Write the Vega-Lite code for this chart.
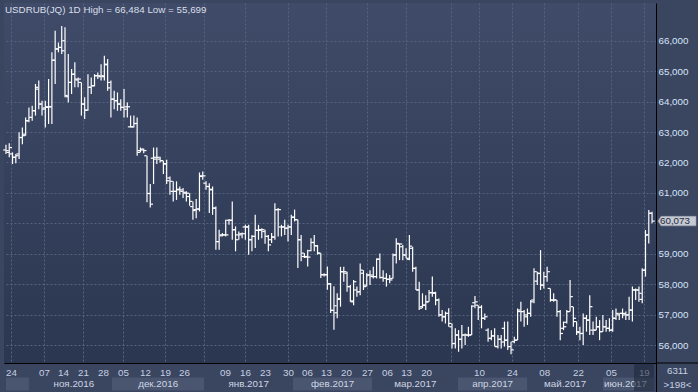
{
"$schema": "https://vega.github.io/schema/vega-lite/v6.json",
"background": "#3a4560",
"padding": {"left": 3, "top": 3, "right": 1, "bottom": 0},
"bounds": "flush",
"spacing": 0,
"config": {
  "view": {"stroke": null},
  "locale": {"number": {"decimal": ",", "thousands": " ", "grouping": [3], "currency": ["", ""]}},
  "axis": {"labelFont": "Liberation Sans", "titleFont": "Liberation Sans"},
  "text": {"font": "Liberation Sans"},
  "title": {"font": "Liberation Sans"}
},
"vconcat": [
{
  "width": 652,
  "height": 360,
  "view": {"fill": {"gradient": "linear", "x1": 0, "y1": 0, "x2": 0, "y2": 1, "stops": [{"offset": 0, "color": "#3f4b68"}, {"offset": 1, "color": "#2b3650"}]}, "stroke": null},
  "title": {"text": "USDRUB(JQ) 1D High = 66,484 Low = 55,699", "anchor": "start", "frame": "group", "orient": "top", "offset": -12, "baseline": "top", "fontSize": 9.8, "fontWeight": "normal", "color": "#d9dee8", "dx": 1},
  "data": {"values": [
{"i":0,"o":62.41,"h":62.58,"l":62.28,"c":62.39},
{"i":1,"o":62.33,"h":62.63,"l":62.17,"c":62.49},
{"i":2,"o":62.28,"h":62.33,"l":61.95,"c":62.17},
{"i":3,"o":62.17,"h":62.28,"l":61.97,"c":62.22},
{"i":4,"o":62.28,"h":62.99,"l":62.11,"c":62.82},
{"i":5,"o":62.82,"h":63.15,"l":62.60,"c":62.88},
{"i":6,"o":62.93,"h":63.48,"l":62.88,"c":63.37},
{"i":7,"o":63.37,"h":63.81,"l":63.32,"c":63.48},
{"i":8,"o":63.48,"h":63.86,"l":63.37,"c":63.70},
{"i":9,"o":63.70,"h":64.58,"l":63.54,"c":64.47},
{"i":10,"o":64.41,"h":64.69,"l":63.75,"c":63.92},
{"i":11,"o":63.92,"h":64.03,"l":63.54,"c":63.75},
{"i":12,"o":63.79,"h":64.03,"l":63.15,"c":63.83},
{"i":13,"o":63.81,"h":64.74,"l":63.26,"c":63.83},
{"i":14,"o":63.83,"h":65.62,"l":63.26,"c":65.36},
{"i":15,"o":65.36,"h":66.33,"l":64.58,"c":65.73},
{"i":16,"o":65.73,"h":65.94,"l":65.62,"c":65.78},
{"i":17,"o":65.78,"h":66.484,"l":65.56,"c":65.67},
{"i":18,"o":66.00,"h":66.44,"l":64.14,"c":64.20},
{"i":19,"o":64.16,"h":65.56,"l":63.97,"c":64.63},
{"i":20,"o":64.63,"h":65.07,"l":64.25,"c":64.90},
{"i":21,"o":64.90,"h":65.29,"l":64.47,"c":64.74},
{"i":22,"o":64.71,"h":64.79,"l":64.47,"c":64.74},
{"i":23,"o":64.63,"h":64.63,"l":63.54,"c":63.92},
{"i":24,"o":63.92,"h":64.14,"l":63.43,"c":63.72},
{"i":25,"o":63.72,"h":64.90,"l":63.70,"c":64.47},
{"i":26,"o":64.47,"h":64.79,"l":64.25,"c":64.52},
{"i":27,"o":64.52,"h":64.90,"l":64.50,"c":64.85},
{"i":28,"o":64.85,"h":64.96,"l":64.74,"c":64.85},
{"i":29,"o":64.82,"h":65.23,"l":64.69,"c":64.85},
{"i":30,"o":64.82,"h":65.51,"l":64.69,"c":65.21},
{"i":31,"o":65.23,"h":65.40,"l":64.36,"c":64.45},
{"i":32,"o":64.63,"h":64.69,"l":63.48,"c":64.08},
{"i":33,"o":64.08,"h":64.36,"l":63.75,"c":64.03},
{"i":34,"o":64.03,"h":64.30,"l":63.70,"c":63.92},
{"i":35,"o":63.92,"h":64.08,"l":63.70,"c":63.81},
{"i":36,"o":63.81,"h":64.41,"l":63.48,"c":63.75},
{"i":37,"o":63.83,"h":63.97,"l":63.48,"c":63.83},
{"i":38,"o":63.17,"h":63.54,"l":63.15,"c":63.17},
{"i":39,"o":63.17,"h":63.54,"l":63.15,"c":63.28},
{"i":40,"o":63.28,"h":63.48,"l":62.22,"c":62.33},
{"i":41,"o":62.39,"h":62.49,"l":62.33,"c":62.44},
{"i":42,"o":62.41,"h":62.46,"l":62.30,"c":62.39},
{"i":43,"o":62.22,"h":62.22,"l":60.69,"c":60.98},
{"i":44,"o":60.98,"h":61.29,"l":60.52,"c":60.63},
{"i":45,"o":62.14,"h":62.49,"l":61.29,"c":62.11},
{"i":46,"o":62.17,"h":62.49,"l":61.95,"c":62.17},
{"i":47,"o":62.11,"h":62.19,"l":62.00,"c":62.06},
{"i":48,"o":62.06,"h":62.06,"l":61.62,"c":61.95},
{"i":49,"o":61.96,"h":62.09,"l":61.29,"c":61.40},
{"i":50,"o":61.49,"h":61.54,"l":60.94,"c":61.38},
{"i":51,"o":61.05,"h":61.38,"l":60.72,"c":61.05},
{"i":52,"o":61.05,"h":61.38,"l":60.77,"c":61.10},
{"i":53,"o":61.12,"h":61.21,"l":60.94,"c":61.10},
{"i":54,"o":61.05,"h":61.16,"l":60.83,"c":61.02},
{"i":55,"o":60.99,"h":61.05,"l":60.72,"c":60.99},
{"i":56,"o":60.88,"h":60.99,"l":60.58,"c":60.72},
{"i":57,"o":60.55,"h":60.72,"l":60.12,"c":60.42},
{"i":58,"o":60.45,"h":60.80,"l":60.17,"c":60.47},
{"i":59,"o":60.47,"h":61.67,"l":60.39,"c":61.54},
{"i":60,"o":61.56,"h":61.70,"l":61.43,"c":61.56},
{"i":61,"o":61.32,"h":61.38,"l":61.10,"c":61.21},
{"i":62,"o":61.21,"h":61.32,"l":60.34,"c":61.12},
{"i":63,"o":61.10,"h":61.21,"l":60.28,"c":60.50},
{"i":64,"o":60.50,"h":60.55,"l":59.13,"c":59.40},
{"i":65,"o":59.40,"h":59.79,"l":59.13,"c":59.59},
{"i":66,"o":59.62,"h":59.68,"l":59.57,"c":59.62},
{"i":67,"o":59.62,"h":60.12,"l":59.57,"c":59.62},
{"i":68,"o":60.10,"h":60.14,"l":59.95,"c":60.10},
{"i":69,"o":60.10,"h":60.72,"l":59.46,"c":59.79},
{"i":70,"o":59.79,"h":59.90,"l":59.08,"c":59.46},
{"i":71,"o":59.62,"h":59.73,"l":59.46,"c":59.62},
{"i":72,"o":59.66,"h":59.70,"l":59.51,"c":59.66},
{"i":73,"o":59.88,"h":59.95,"l":59.46,"c":59.88},
{"i":74,"o":59.88,"h":59.95,"l":58.97,"c":59.46},
{"i":75,"o":59.46,"h":59.62,"l":59.08,"c":59.57},
{"i":76,"o":59.57,"h":60.28,"l":59.19,"c":59.77},
{"i":77,"o":59.77,"h":59.95,"l":59.46,"c":59.77},
{"i":78,"o":59.79,"h":59.84,"l":59.51,"c":59.79},
{"i":79,"o":59.73,"h":59.79,"l":59.33,"c":59.57},
{"i":80,"o":59.57,"h":59.62,"l":59.08,"c":59.29},
{"i":81,"o":59.46,"h":59.68,"l":59.35,"c":59.55},
{"i":82,"o":59.55,"h":60.66,"l":59.46,"c":60.45},
{"i":83,"o":60.45,"h":60.50,"l":59.57,"c":60.45},
{"i":84,"o":59.88,"h":59.95,"l":59.57,"c":59.88},
{"i":85,"o":59.88,"h":60.12,"l":59.62,"c":59.84},
{"i":86,"o":59.84,"h":59.95,"l":59.40,"c":59.88},
{"i":87,"o":59.88,"h":60.28,"l":59.62,"c":60.20},
{"i":88,"o":60.20,"h":60.45,"l":60.06,"c":60.12},
{"i":89,"o":60.12,"h":60.12,"l":58.53,"c":59.46},
{"i":90,"o":59.46,"h":59.62,"l":58.75,"c":59.02},
{"i":91,"o":58.91,"h":59.02,"l":58.86,"c":58.91},
{"i":92,"o":58.89,"h":59.13,"l":58.58,"c":58.89},
{"i":93,"o":59.10,"h":59.51,"l":59.08,"c":59.37},
{"i":94,"o":59.37,"h":59.62,"l":59.08,"c":59.26},
{"i":95,"o":59.26,"h":59.29,"l":58.97,"c":59.02},
{"i":96,"o":59.02,"h":59.02,"l":58.20,"c":58.31},
{"i":97,"o":58.31,"h":58.36,"l":58.25,"c":58.31},
{"i":98,"o":58.31,"h":58.58,"l":57.82,"c":58.01},
{"i":99,"o":58.01,"h":58.04,"l":57.05,"c":57.14},
{"i":100,"o":57.14,"h":57.93,"l":56.50,"c":57.29},
{"i":101,"o":57.06,"h":57.70,"l":56.88,"c":57.50},
{"i":102,"o":57.53,"h":58.57,"l":57.26,"c":58.41},
{"i":103,"o":58.41,"h":58.57,"l":58.08,"c":58.41},
{"i":104,"o":58.36,"h":58.41,"l":57.75,"c":57.92},
{"i":105,"o":57.92,"h":57.97,"l":57.42,"c":57.42},
{"i":106,"o":57.45,"h":58.14,"l":57.31,"c":58.08},
{"i":107,"o":57.81,"h":57.92,"l":57.59,"c":57.75},
{"i":108,"o":57.75,"h":58.68,"l":57.64,"c":58.46},
{"i":109,"o":58.36,"h":58.46,"l":57.81,"c":57.92},
{"i":110,"o":57.97,"h":58.36,"l":57.92,"c":58.30},
{"i":111,"o":58.30,"h":58.46,"l":57.97,"c":58.30},
{"i":112,"o":58.25,"h":58.57,"l":58.19,"c":58.25},
{"i":113,"o":58.25,"h":58.85,"l":58.19,"c":58.82},
{"i":114,"o":58.82,"h":59.01,"l":58.19,"c":58.22},
{"i":115,"o":58.22,"h":58.46,"l":58.08,"c":58.19},
{"i":116,"o":58.19,"h":58.36,"l":57.92,"c":58.16},
{"i":117,"o":58.16,"h":58.30,"l":58.03,"c":58.14},
{"i":118,"o":58.19,"h":59.01,"l":58.19,"c":58.96},
{"i":119,"o":58.96,"h":59.51,"l":58.68,"c":59.34},
{"i":120,"o":59.32,"h":59.34,"l":58.79,"c":59.32},
{"i":121,"o":59.23,"h":59.29,"l":58.79,"c":58.96},
{"i":122,"o":58.96,"h":59.18,"l":58.85,"c":58.85},
{"i":123,"o":58.82,"h":59.62,"l":58.79,"c":59.25},
{"i":124,"o":59.18,"h":59.23,"l":58.41,"c":58.52},
{"i":125,"o":58.52,"h":58.57,"l":57.81,"c":57.81},
{"i":126,"o":57.81,"h":58.08,"l":57.15,"c":57.21},
{"i":127,"o":57.26,"h":57.70,"l":57.21,"c":57.31},
{"i":128,"o":57.31,"h":57.64,"l":57.15,"c":57.42},
{"i":129,"o":57.42,"h":57.81,"l":57.42,"c":57.72},
{"i":130,"o":57.72,"h":58.25,"l":57.59,"c":57.72},
{"i":131,"o":57.70,"h":57.75,"l":57.31,"c":57.48},
{"i":132,"o":57.48,"h":57.53,"l":56.93,"c":56.99},
{"i":133,"o":56.99,"h":57.15,"l":56.77,"c":56.93},
{"i":134,"o":56.93,"h":57.10,"l":56.71,"c":57.04},
{"i":135,"o":57.04,"h":57.21,"l":56.60,"c":56.71},
{"i":136,"o":56.60,"h":56.71,"l":55.89,"c":56.05},
{"i":137,"o":56.05,"h":56.55,"l":55.89,"c":56.33},
{"i":138,"o":56.33,"h":56.49,"l":55.78,"c":56.19},
{"i":139,"o":56.19,"h":56.66,"l":55.89,"c":56.33},
{"i":140,"o":56.33,"h":56.38,"l":56.00,"c":56.33},
{"i":141,"o":56.33,"h":56.60,"l":56.27,"c":56.33},
{"i":142,"o":56.33,"h":57.31,"l":56.33,"c":57.28},
{"i":143,"o":57.39,"h":57.61,"l":57.21,"c":57.42},
{"i":144,"o":57.31,"h":57.31,"l":56.82,"c":57.24},
{"i":145,"o":57.24,"h":57.31,"l":56.55,"c":56.88},
{"i":146,"o":56.88,"h":57.04,"l":56.82,"c":56.93},
{"i":147,"o":56.49,"h":56.55,"l":56.11,"c":56.22},
{"i":148,"o":56.22,"h":56.49,"l":56.16,"c":56.30},
{"i":149,"o":56.30,"h":56.55,"l":55.95,"c":55.95},
{"i":150,"o":55.95,"h":56.33,"l":55.89,"c":56.19},
{"i":151,"o":56.19,"h":56.33,"l":55.89,"c":56.10},
{"i":152,"o":56.55,"h":56.77,"l":55.95,"c":56.16},
{"i":153,"o":56.16,"h":56.77,"l":55.84,"c":55.95},
{"i":154,"o":55.95,"h":56.11,"l":55.699,"c":55.84},
{"i":155,"o":56.11,"h":56.27,"l":56.06,"c":56.16},
{"i":156,"o":56.16,"h":57.20,"l":56.16,"c":57.15},
{"i":157,"o":57.10,"h":57.42,"l":56.77,"c":57.10},
{"i":158,"o":57.10,"h":57.15,"l":56.60,"c":56.99},
{"i":159,"o":56.93,"h":57.20,"l":56.66,"c":57.04},
{"i":160,"o":57.04,"h":57.48,"l":56.93,"c":57.42},
{"i":161,"o":57.48,"h":58.52,"l":57.37,"c":58.41},
{"i":162,"o":58.10,"h":58.41,"l":57.97,"c":58.35},
{"i":163,"o":58.36,"h":59.12,"l":57.81,"c":57.97},
{"i":164,"o":57.97,"h":58.41,"l":57.86,"c":58.25},
{"i":165,"o":58.25,"h":58.57,"l":58.08,"c":58.41},
{"i":166,"o":57.86,"h":57.86,"l":57.42,"c":57.48},
{"i":167,"o":57.48,"h":57.70,"l":57.42,"c":57.48},
{"i":168,"o":57.48,"h":57.48,"l":56.93,"c":57.10},
{"i":169,"o":57.10,"h":57.15,"l":56.16,"c":56.38},
{"i":170,"o":56.55,"h":56.77,"l":56.49,"c":56.60},
{"i":171,"o":56.75,"h":57.15,"l":56.71,"c":57.10},
{"i":172,"o":57.10,"h":58.14,"l":57.10,"c":57.59},
{"i":173,"o":57.26,"h":57.26,"l":56.60,"c":56.88},
{"i":174,"o":56.77,"h":56.77,"l":56.33,"c":56.44},
{"i":175,"o":56.41,"h":56.60,"l":56.16,"c":56.38},
{"i":176,"o":56.38,"h":57.04,"l":56.00,"c":56.88},
{"i":177,"o":56.88,"h":56.99,"l":56.44,"c":56.82},
{"i":178,"o":56.82,"h":57.64,"l":56.33,"c":57.26},
{"i":179,"o":56.49,"h":56.77,"l":56.33,"c":56.49},
{"i":180,"o":56.49,"h":56.93,"l":56.49,"c":56.60},
{"i":181,"o":56.60,"h":56.82,"l":56.16,"c":56.44},
{"i":182,"o":56.44,"h":56.99,"l":56.44,"c":56.60},
{"i":183,"o":56.60,"h":56.82,"l":56.44,"c":56.55},
{"i":184,"o":56.55,"h":56.88,"l":56.44,"c":56.49},
{"i":185,"o":56.49,"h":57.15,"l":56.44,"c":56.88},
{"i":186,"o":56.88,"h":57.20,"l":56.82,"c":57.04},
{"i":187,"o":56.99,"h":57.04,"l":56.82,"c":57.04},
{"i":188,"o":57.04,"h":57.20,"l":56.88,"c":57.04},
{"i":189,"o":56.99,"h":57.10,"l":56.82,"c":56.99},
{"i":190,"o":56.99,"h":57.59,"l":56.82,"c":57.15},
{"i":191,"o":57.15,"h":57.92,"l":56.77,"c":57.81},
{"i":192,"o":57.81,"h":57.86,"l":57.48,"c":57.81},
{"i":193,"o":57.81,"h":57.92,"l":57.42,"c":57.70},
{"i":194,"o":57.50,"h":58.52,"l":57.37,"c":58.46},
{"i":195,"o":58.46,"h":59.78,"l":58.25,"c":59.62},
{"i":196,"o":59.62,"h":60.44,"l":59.34,"c":60.33},
{"i":197,"o":60.33,"h":60.38,"l":60.00,"c":60.073}
  ]},
  "encoding": {
    "x": {"field": "i", "type": "quantitative",
      "scale": {"domain": [-0.6, 198.2], "nice": false, "zero": false},
      "axis": {
        "title": null,
        "values": [1.5, 11.6, 17.4, 23.5, 29.6, 35.7, 42.4, 48.5, 54.3, 60.5, 66.8, 72.9, 79, 86, 91.8, 97.6, 103.7, 110.1, 116.2, 122, 128.1, 135.7, 144.2, 154.3, 164.1, 174.4, 184.5, 194.5],
        "labelExpr": "indexof([1.5, 11.6, 17.4, 23.5, 29.6, 35.7, 42.4, 48.5, 54.3, 66.8, 72.9, 79, 86, 91.8, 97.6, 103.7, 110.1, 116.2, 122, 128.1, 144.2, 154.3, 164.1, 174.4, 184.5, 194.5], datum.value) >= 0 ? ['24','07','14','21','28','05','12','19','26','09','16','23','30','06','13','20','27','06','13','20','10','24','08','22','05','19'][indexof([1.5, 11.6, 17.4, 23.5, 29.6, 35.7, 42.4, 48.5, 54.3, 66.8, 72.9, 79, 86, 91.8, 97.6, 103.7, 110.1, 116.2, 122, 128.1, 144.2, 154.3, 164.1, 174.4, 184.5, 194.5], datum.value)] : ''",
        "ticks": false,
        "domain": true,
        "domainColor": "#000000",
        "domainWidth": 1,
        "labelColor": "#c6d0e2",
        "labelFontSize": 9.8,
        "labelPadding": 4,
        "labelOverlap": false,
        "labelFlush": false,
        "labelBound": false,
        "grid": true,
        "gridColor": "#56647f",
        "gridDash": [2, 2],
        "gridOpacity": {"condition": {"test": "indexof([1.5, 11.6, 23.5, 35.7, 48.5, 60.5, 72.9, 86, 97.6, 110.1, 122, 135.7, 144.2, 154.3, 164.1, 174.4, 184.5, 194.5], datum.value) >= 0", "value": 1}, "value": 0}
      }
    }
  },
  "layer": [
    {
      "mark": {"type": "rule", "color": "#ffffff", "strokeWidth": 1.2},
      "encoding": {
        "y": {"field": "l", "type": "quantitative", "scale": {"domain": [55.41, 67.24], "nice": false, "zero": false},
          "axis": {"title": null, "orient": "right", "values": [56, 57, 58, 59, 60, 61, 62, 63, 64, 65, 66], "format": ".3f", "labelExpr": "datum.value == 60 ? '' : datum.label", "ticks": false, "domain": true, "domainColor": "#000000", "labelColor": "#d6e4fa", "labelFontSize": 9.8, "labelPadding": 2, "labelAlign": "left", "labelBaseline": "middle", "labelFlush": false, "labelOverlap": false, "minExtent": 43, "maxExtent": 43, "grid": true, "gridColor": "#56647f", "gridDash": [2, 2]}},
        "y2": {"field": "h"}
      }
    },
    {
      "mark": {"type": "tick", "orient": "horizontal", "size": 2.5, "thickness": 1.2, "xOffset": -1.5, "color": "#ffffff", "opacity": 1},
      "encoding": {"y": {"field": "o", "type": "quantitative",
          "axis": {"title": null, "orient": "right", "values": [56, 57, 58, 59, 60, 61, 62, 63, 64, 65, 66], "format": ".3f", "labelExpr": "datum.value == 60 ? '' : datum.label", "ticks": false, "domain": true, "domainColor": "#000000", "labelColor": "#d6e4fa", "labelFontSize": 9.8, "labelPadding": 2, "labelAlign": "left", "labelBaseline": "middle", "labelFlush": false, "labelOverlap": false, "minExtent": 43, "maxExtent": 43, "grid": true, "gridColor": "#56647f", "gridDash": [2, 2]}}}
    },
    {
      "mark": {"type": "tick", "orient": "horizontal", "size": 2.5, "thickness": 1.2, "xOffset": 1.5, "color": "#ffffff", "opacity": 1},
      "encoding": {"y": {"field": "c", "type": "quantitative",
          "axis": {"title": null, "orient": "right", "values": [56, 57, 58, 59, 60, 61, 62, 63, 64, 65, 66], "format": ".3f", "labelExpr": "datum.value == 60 ? '' : datum.label", "ticks": false, "domain": true, "domainColor": "#000000", "labelColor": "#d6e4fa", "labelFontSize": 9.8, "labelPadding": 2, "labelAlign": "left", "labelBaseline": "middle", "labelFlush": false, "labelOverlap": false, "minExtent": 43, "maxExtent": 43, "grid": true, "gridColor": "#56647f", "gridDash": [2, 2]}}}
    },
    {
      "transform": [{"filter": "datum.i == 197"}],
      "mark": {"type": "point", "shape": "M-1,0L-0.84,-0.25L1,-0.25L1,0.25L-0.84,0.25Z", "size": 1444, "filled": true, "color": "#c5c9d1", "stroke": "#9aa1af", "strokeWidth": 0.6, "opacity": 1},
      "encoding": {"x": {"datum": 204.6}, "y": {"field": "c", "type": "quantitative",
          "axis": {"title": null, "orient": "right", "values": [56, 57, 58, 59, 60, 61, 62, 63, 64, 65, 66], "format": ".3f", "labelExpr": "datum.value == 60 ? '' : datum.label", "ticks": false, "domain": true, "domainColor": "#000000", "labelColor": "#d6e4fa", "labelFontSize": 9.8, "labelPadding": 2, "labelAlign": "left", "labelBaseline": "middle", "labelFlush": false, "labelOverlap": false, "minExtent": 43, "maxExtent": 43, "grid": true, "gridColor": "#56647f", "gridDash": [2, 2]}}}
    },
    {
      "transform": [{"filter": "datum.i == 197"}],
      "mark": {"type": "text", "fontSize": 9.8, "color": "#252d44", "align": "center", "baseline": "middle", "dx": -2},
      "encoding": {"x": {"datum": 204.6}, "y": {"field": "c", "type": "quantitative",
          "axis": {"title": null, "orient": "right", "values": [56, 57, 58, 59, 60, 61, 62, 63, 64, 65, 66], "format": ".3f", "labelExpr": "datum.value == 60 ? '' : datum.label", "ticks": false, "domain": true, "domainColor": "#000000", "labelColor": "#d6e4fa", "labelFontSize": 9.8, "labelPadding": 2, "labelAlign": "left", "labelBaseline": "middle", "labelFlush": false, "labelOverlap": false, "minExtent": 43, "maxExtent": 43, "grid": true, "gridColor": "#56647f", "gridDash": [2, 2]}}, "text": {"field": "c", "type": "quantitative", "format": ".3f"}}
    }
  ]
},
{
  "width": 652,
  "height": 29,
  "view": {"fill": null, "stroke": null},
  "data": {"values": [
    {"m": "окт.2016", "n": 10, "s": 0.0, "e": 7.0, "c": 3.5},
    {"m": "ноя.2016", "n": 11, "s": 7.0, "e": 32.3, "c": 20.7},
    {"m": "дек.2016", "n": 12, "s": 32.3, "e": 60.4, "c": 46.4},
    {"m": "янв.2017", "n": 1, "s": 60.4, "e": 87.5, "c": 74.0},
    {"m": "фев.2017", "n": 2, "s": 87.5, "e": 111.6, "c": 99.6},
    {"m": "мар.2017", "n": 3, "s": 111.6, "e": 137.8, "c": 124.8},
    {"m": "апр.2017", "n": 4, "s": 137.8, "e": 158.9, "c": 148.4},
    {"m": "май.2017", "n": 5, "s": 158.9, "e": 182.0, "c": 170.5},
    {"m": "июн.2017", "n": 6, "s": 182.0, "e": 197.6, "c": 188.9}
  ]},
  "layer": [
    {
      "transform": [{"filter": "datum.n % 2 == 0"}],
      "mark": {"type": "rect", "color": "#4a5570"},
      "encoding": {
        "x": {"field": "s", "type": "quantitative", "scale": {"domain": [-0.6, 198.2], "nice": false, "zero": false}, "axis": null},
        "x2": {"field": "e"},
        "y": {"datum": 0.1, "type": "quantitative", "scale": {"domain": [0, 2], "nice": false, "zero": false},
          "axis": {
            "title": null,
            "orient": "right",
            "values": [0.5, 1.5],
            "labelExpr": "datum.value > 1 ? '6311' : '>198<'",
            "ticks": false,
            "grid": false,
            "domain": true,
            "domainColor": "#000000",
            "labelColor": "#c6d0e2",
            "labelFontSize": 9.8,
            "labelAlign": "center",
            "labelBaseline": "middle",
            "labelPadding": 21,
            "labelOverlap": false,
            "labelFlush": false,
            "labelBound": false,
            "minExtent": 43,
            "maxExtent": 43
          }
        },
        "y2": {"datum": 1.0}
      }
    },
    {
      "transform": [{"filter": "datum.e - datum.s > 12"}],
      "mark": {"type": "text", "color": "#cdd5e4", "fontSize": 9.8, "baseline": "middle", "align": "center"},
      "encoding": {
        "x": {"field": "c", "type": "quantitative"},
        "y": {"datum": 0.55, "type": "quantitative"},
        "text": {"field": "m"}
      }
    },
    {
      "data": {"values": [{"k": 1}]},
      "mark": {"type": "rule", "color": "#000000", "strokeWidth": 1},
      "encoding": {
        "x": {"datum": 198.2, "type": "quantitative"},
        "x2": {"datum": 211.6},
        "y": {"datum": 2, "type": "quantitative"}
      }
    },
    {
      "data": {"values": [{"k": 1}]},
      "mark": {"type": "rect", "color": "#1c2436", "opacity": 0.55},
      "encoding": {
        "x": {"datum": 191.5, "type": "quantitative"},
        "x2": {"datum": 197.6},
        "y": {"datum": 0.07, "type": "quantitative"},
        "y2": {"datum": 1.97}
      }
    }
  ]
}
]
}
